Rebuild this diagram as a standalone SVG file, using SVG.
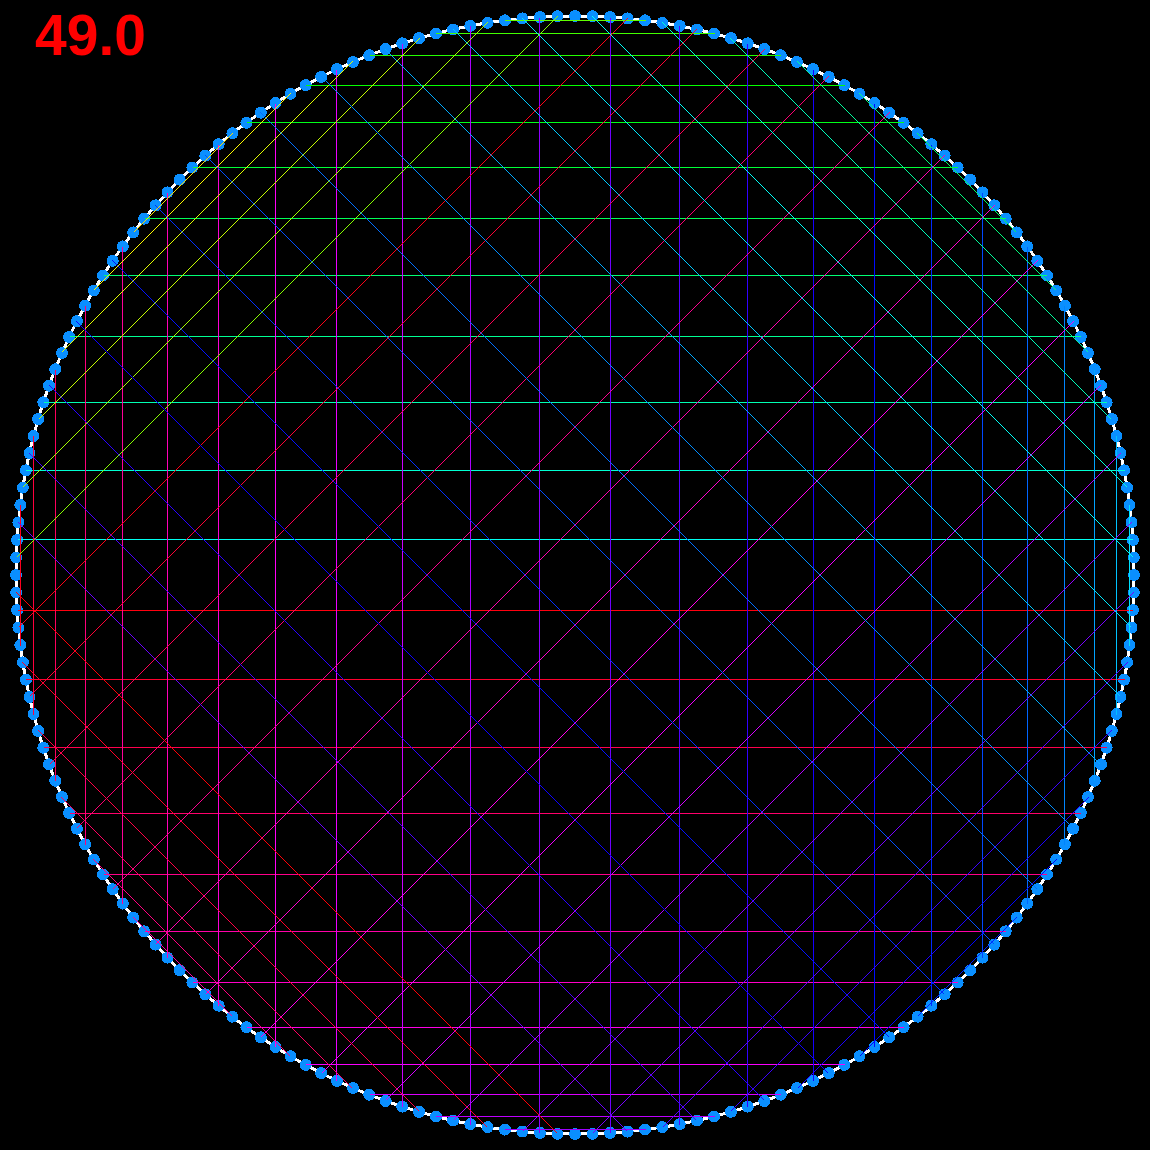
<svg xmlns="http://www.w3.org/2000/svg" width="1150" height="1150" viewBox="0 0 1150 1150">
<style>
#chords line{stroke-width:1;shape-rendering:crispEdges;fill:none}
.lbl{font-family:"Liberation Sans",Arial,sans-serif;font-weight:bold;font-size:57px;fill:#ff0000}
</style>
<rect x="0" y="0" width="1150" height="1150" fill="#000000"/>
<g id="rim">
<circle cx="575" cy="575" r="559" fill="none" stroke="#ffffff" stroke-width="3" shape-rendering="crispEdges"/>
</g>
<g id="dots">
<circle cx="575" cy="575" r="559" fill="none" stroke="#0a8fff" stroke-width="12" stroke-linecap="round" pathLength="200" stroke-dasharray="0 1" shape-rendering="crispEdges"/>
</g>
<g id="chords">
<line x1="17.5" y1="539.5" x2="1132.5" y2="539.5" stroke="hsl(176.4,100%,50%)"/>
<line x1="25.5" y1="470.5" x2="1124.5" y2="470.5" stroke="hsl(169.2,100%,50%)"/>
<line x1="43.5" y1="402.5" x2="1106.5" y2="402.5" stroke="hsl(162,100%,50%)"/>
<line x1="69.5" y1="336.5" x2="1080.5" y2="336.5" stroke="hsl(154.8,100%,50%)"/>
<line x1="103.5" y1="275.5" x2="1046.5" y2="275.5" stroke="hsl(147.6,100%,50%)"/>
<line x1="144.5" y1="218.5" x2="1005.5" y2="218.5" stroke="hsl(140.4,100%,50%)"/>
<line x1="192.5" y1="167.5" x2="957.5" y2="167.5" stroke="hsl(133.2,100%,50%)"/>
<line x1="246.5" y1="122.5" x2="903.5" y2="122.5" stroke="hsl(126,100%,50%)"/>
<line x1="305.5" y1="85.5" x2="844.5" y2="85.5" stroke="hsl(118.8,100%,50%)"/>
<line x1="369.5" y1="55.5" x2="780.5" y2="55.5" stroke="hsl(111.6,100%,50%)"/>
<line x1="435.5" y1="33.5" x2="714.5" y2="33.5" stroke="hsl(104.4,100%,50%)"/>
<line x1="504.5" y1="20.5" x2="645.5" y2="20.5" stroke="hsl(97.2,100%,50%)"/>
<line x1="17.5" y1="610.5" x2="1132.5" y2="610.5" stroke="hsl(356.4,100%,50%)"/>
<line x1="25.5" y1="679.5" x2="1124.5" y2="679.5" stroke="hsl(349.2,100%,50%)"/>
<line x1="43.5" y1="747.5" x2="1106.5" y2="747.5" stroke="hsl(342,100%,50%)"/>
<line x1="69.5" y1="813.5" x2="1080.5" y2="813.5" stroke="hsl(334.8,100%,50%)"/>
<line x1="103.5" y1="874.5" x2="1046.5" y2="874.5" stroke="hsl(327.6,100%,50%)"/>
<line x1="144.5" y1="931.5" x2="1005.5" y2="931.5" stroke="hsl(320.4,100%,50%)"/>
<line x1="192.5" y1="982.5" x2="957.5" y2="982.5" stroke="hsl(313.2,100%,50%)"/>
<line x1="246.5" y1="1027.5" x2="903.5" y2="1027.5" stroke="hsl(306,100%,50%)"/>
<line x1="305.5" y1="1064.5" x2="844.5" y2="1064.5" stroke="hsl(298.8,100%,50%)"/>
<line x1="369.5" y1="1094.5" x2="780.5" y2="1094.5" stroke="hsl(291.6,100%,50%)"/>
<line x1="435.5" y1="1116.5" x2="714.5" y2="1116.5" stroke="hsl(284.4,100%,50%)"/>
<line x1="504.5" y1="1129.5" x2="645.5" y2="1129.5" stroke="hsl(277.2,100%,50%)"/>
<line x1="20.5" y1="504.5" x2="20.5" y2="645.5" stroke="hsl(352.8,100%,50%)"/>
<line x1="33.5" y1="435.5" x2="33.5" y2="714.5" stroke="hsl(345.6,100%,50%)"/>
<line x1="55.5" y1="369.5" x2="55.5" y2="780.5" stroke="hsl(338.4,100%,50%)"/>
<line x1="85.5" y1="305.5" x2="85.5" y2="844.5" stroke="hsl(331.2,100%,50%)"/>
<line x1="122.5" y1="246.5" x2="122.5" y2="903.5" stroke="hsl(324,100%,50%)"/>
<line x1="167.5" y1="192.5" x2="167.5" y2="957.5" stroke="hsl(316.8,100%,50%)"/>
<line x1="218.5" y1="144.5" x2="218.5" y2="1005.5" stroke="hsl(309.6,100%,50%)"/>
<line x1="275.5" y1="103.5" x2="275.5" y2="1046.5" stroke="hsl(302.4,100%,50%)"/>
<line x1="336.5" y1="69.5" x2="336.5" y2="1080.5" stroke="hsl(295.2,100%,50%)"/>
<line x1="402.5" y1="43.5" x2="402.5" y2="1106.5" stroke="hsl(288,100%,50%)"/>
<line x1="470.5" y1="25.5" x2="470.5" y2="1124.5" stroke="hsl(280.8,100%,50%)"/>
<line x1="539.5" y1="17.5" x2="539.5" y2="1132.5" stroke="hsl(273.6,100%,50%)"/>
<line x1="610.5" y1="17.5" x2="610.5" y2="1132.5" stroke="hsl(266.4,100%,50%)"/>
<line x1="679.5" y1="25.5" x2="679.5" y2="1124.5" stroke="hsl(259.2,100%,50%)"/>
<line x1="747.5" y1="43.5" x2="747.5" y2="1106.5" stroke="hsl(252,100%,50%)"/>
<line x1="813.5" y1="69.5" x2="813.5" y2="1080.5" stroke="hsl(244.8,100%,50%)"/>
<line x1="874.5" y1="103.5" x2="874.5" y2="1046.5" stroke="hsl(237.6,100%,50%)"/>
<line x1="931.5" y1="144.5" x2="931.5" y2="1005.5" stroke="hsl(230.4,100%,50%)"/>
<line x1="982.5" y1="192.5" x2="982.5" y2="957.5" stroke="hsl(223.2,100%,50%)"/>
<line x1="1027.5" y1="246.5" x2="1027.5" y2="903.5" stroke="hsl(216,100%,50%)"/>
<line x1="1064.5" y1="305.5" x2="1064.5" y2="844.5" stroke="hsl(208.8,100%,50%)"/>
<line x1="1094.5" y1="369.5" x2="1094.5" y2="780.5" stroke="hsl(201.6,100%,50%)"/>
<line x1="1116.5" y1="435.5" x2="1116.5" y2="714.5" stroke="hsl(194.4,100%,50%)"/>
<line x1="1129.5" y1="504.5" x2="1129.5" y2="645.5" stroke="hsl(187.2,100%,50%)"/>
<line x1="16.5" y1="557.5" x2="557.5" y2="16.5" stroke="hsl(88.2,100%,50%)"/>
<line x1="22.5" y1="487.5" x2="487.5" y2="22.5" stroke="hsl(81,100%,50%)"/>
<line x1="38.5" y1="419.5" x2="419.5" y2="38.5" stroke="hsl(73.8,100%,50%)"/>
<line x1="61.5" y1="352.5" x2="352.5" y2="61.5" stroke="hsl(66.6,100%,50%)"/>
<line x1="93.5" y1="290.5" x2="290.5" y2="93.5" stroke="hsl(59.4,100%,50%)"/>
<line x1="133.5" y1="232.5" x2="232.5" y2="133.5" stroke="hsl(52.2,100%,50%)"/>
<line x1="627.5" y1="18.5" x2="18.5" y2="627.5" stroke="hsl(354.6,100%,50%)"/>
<line x1="696.5" y1="29.5" x2="29.5" y2="696.5" stroke="hsl(347.4,100%,50%)"/>
<line x1="764.5" y1="49.5" x2="49.5" y2="764.5" stroke="hsl(340.2,100%,50%)"/>
<line x1="828.5" y1="76.5" x2="76.5" y2="828.5" stroke="hsl(333,100%,50%)"/>
<line x1="889.5" y1="112.5" x2="112.5" y2="889.5" stroke="hsl(325.8,100%,50%)"/>
<line x1="944.5" y1="155.5" x2="155.5" y2="944.5" stroke="hsl(318.6,100%,50%)"/>
<line x1="994.5" y1="205.5" x2="205.5" y2="994.5" stroke="hsl(311.4,100%,50%)"/>
<line x1="1037.5" y1="260.5" x2="260.5" y2="1037.5" stroke="hsl(304.2,100%,50%)"/>
<line x1="1073.5" y1="321.5" x2="321.5" y2="1073.5" stroke="hsl(297,100%,50%)"/>
<line x1="1100.5" y1="385.5" x2="385.5" y2="1100.5" stroke="hsl(289.8,100%,50%)"/>
<line x1="1120.5" y1="453.5" x2="453.5" y2="1120.5" stroke="hsl(282.6,100%,50%)"/>
<line x1="1131.5" y1="522.5" x2="522.5" y2="1131.5" stroke="hsl(275.4,100%,50%)"/>
<line x1="1133.5" y1="592.5" x2="592.5" y2="1133.5" stroke="hsl(268.2,100%,50%)"/>
<line x1="1127.5" y1="662.5" x2="662.5" y2="1127.5" stroke="hsl(261,100%,50%)"/>
<line x1="1111.5" y1="730.5" x2="730.5" y2="1111.5" stroke="hsl(253.8,100%,50%)"/>
<line x1="1088.5" y1="797.5" x2="797.5" y2="1088.5" stroke="hsl(246.6,100%,50%)"/>
<line x1="1056.5" y1="859.5" x2="859.5" y2="1056.5" stroke="hsl(239.4,100%,50%)"/>
<line x1="1016.5" y1="917.5" x2="917.5" y2="1016.5" stroke="hsl(232.2,100%,50%)"/>
<line x1="18.5" y1="522.5" x2="627.5" y2="1131.5" stroke="hsl(264.6,100%,50%)"/>
<line x1="29.5" y1="453.5" x2="696.5" y2="1120.5" stroke="hsl(257.4,100%,50%)"/>
<line x1="49.5" y1="385.5" x2="764.5" y2="1100.5" stroke="hsl(250.2,100%,50%)"/>
<line x1="76.5" y1="321.5" x2="828.5" y2="1073.5" stroke="hsl(243,100%,50%)"/>
<line x1="112.5" y1="260.5" x2="889.5" y2="1037.5" stroke="hsl(235.8,100%,50%)"/>
<line x1="155.5" y1="205.5" x2="944.5" y2="994.5" stroke="hsl(228.6,100%,50%)"/>
<line x1="205.5" y1="155.5" x2="994.5" y2="944.5" stroke="hsl(221.4,100%,50%)"/>
<line x1="260.5" y1="112.5" x2="1037.5" y2="889.5" stroke="hsl(214.2,100%,50%)"/>
<line x1="321.5" y1="76.5" x2="1073.5" y2="828.5" stroke="hsl(207,100%,50%)"/>
<line x1="385.5" y1="49.5" x2="1100.5" y2="764.5" stroke="hsl(199.8,100%,50%)"/>
<line x1="453.5" y1="29.5" x2="1120.5" y2="696.5" stroke="hsl(192.6,100%,50%)"/>
<line x1="522.5" y1="18.5" x2="1131.5" y2="627.5" stroke="hsl(185.4,100%,50%)"/>
<line x1="592.5" y1="16.5" x2="1133.5" y2="557.5" stroke="hsl(178.2,100%,50%)"/>
<line x1="662.5" y1="22.5" x2="1127.5" y2="487.5" stroke="hsl(171,100%,50%)"/>
<line x1="730.5" y1="38.5" x2="1111.5" y2="419.5" stroke="hsl(163.8,100%,50%)"/>
<line x1="797.5" y1="61.5" x2="1088.5" y2="352.5" stroke="hsl(156.6,100%,50%)"/>
<line x1="859.5" y1="93.5" x2="1056.5" y2="290.5" stroke="hsl(149.4,100%,50%)"/>
<line x1="917.5" y1="133.5" x2="1016.5" y2="232.5" stroke="hsl(142.2,100%,50%)"/>
<line x1="557.5" y1="1133.5" x2="16.5" y2="592.5" stroke="hsl(358.2,100%,50%)"/>
<line x1="487.5" y1="1127.5" x2="22.5" y2="662.5" stroke="hsl(351,100%,50%)"/>
<line x1="419.5" y1="1111.5" x2="38.5" y2="730.5" stroke="hsl(343.8,100%,50%)"/>
<line x1="352.5" y1="1088.5" x2="61.5" y2="797.5" stroke="hsl(336.6,100%,50%)"/>
<line x1="290.5" y1="1056.5" x2="93.5" y2="859.5" stroke="hsl(329.4,100%,50%)"/>
<line x1="232.5" y1="1016.5" x2="133.5" y2="917.5" stroke="hsl(322.2,100%,50%)"/>
</g>
<text class="lbl" x="35" y="55">49.0</text>
</svg>
